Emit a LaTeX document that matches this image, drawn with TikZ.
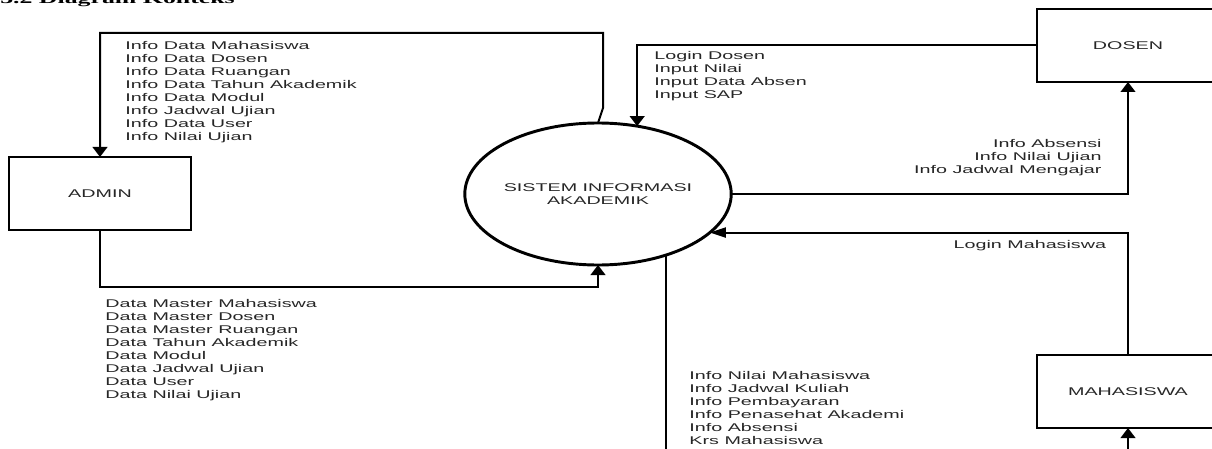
\documentclass[tikz,border=0pt]{standalone}
\usepackage{fontspec}
\setmainfont{Liberation Serif}
\setsansfont{Liberation Sans}
\usetikzlibrary{arrows.meta,shapes.geometric,calc}

\newcommand{\sx}[1]{\scalebox{1.76}[1]{#1}}

\tikzset{
  entity/.style={draw, line width=1.8pt, minimum width=136.5pt, minimum height=54.75pt, inner sep=0pt, outer sep=0pt, font=\sffamily\fontsize{8.4}{9.75}\selectfont, text=black!85},
  process/.style={draw, ellipse, line width=2.2pt, minimum width=195pt, minimum height=106.5pt, inner sep=0pt, outer sep=0pt, align=center, font=\sffamily\fontsize{8.4}{9.5}\selectfont, text=black!85},
  flow/.style={line width=1.5pt, -{Triangle[width=11pt,length=7.5pt]}},
  hflow/.style={line width=1.5pt, -{Triangle[width=7.5pt,length=12pt]}},
  flowtext/.style={inner sep=0pt, xscale=1.76, font=\sffamily\fontsize{8.4}{9.75}\selectfont, text=black!85}
}

\begin{document}
\begin{tikzpicture}[x=0.75pt,y=0.75pt,yscale=-1,xscale=1]
\useasboundingbox (0,0) rectangle (1212,449);
\clip (0,0) rectangle (1212,449);

% Text Node
\node [anchor=base west, inner sep=0pt, font=\bfseries\fontsize{11}{13}\selectfont] (title) at (0,4) {\sx{3.2 Diagram Konteks}};

%Shape: Ellipse
\node [process] (sia) at (598,194) {\sx{SISTEM INFORMASI}\\\sx{AKADEMIK}};
%Shape: Rectangle
\node [entity] (admin) at (100,193.5) {\sx{ADMIN}};
%Shape: Rectangle
\node [entity] (dosen) at (1128,45.5) {\sx{DOSEN}};
%Shape: Rectangle
\node [entity] (mhs) at (1128,391.5) {\sx{MAHASISWA}};

%Straight Lines
\draw [flow] (sia.north) -- ++(5,-15) -- ++(0,-75) -| (admin.north);
%Straight Lines
\draw [flow] (admin.south) -- ++(0,57) -| (sia.south);
%Straight Lines
\draw [flow] (dosen.west) -| (sia.60);
%Straight Lines
\draw [flow] (sia.east) -| (dosen.south);
%Straight Lines
\draw [hflow] (mhs.north) |- (sia.-19);
%Straight Lines
\draw [flow] (sia.-42) |- ($(mhs.south)+(0,45)$) -- (mhs.south);

% Text Node
\node [flowtext, anchor=north west, align=left] (tadmin) at (125,41) {Info Data Mahasiswa\\Info Data Dosen\\Info Data Ruangan\\Info Data Tahun Akademik\\Info Data Modul\\Info Jadwal Ujian\\Info Data User\\Info Nilai Ujian};
% Text Node
\node [flowtext, anchor=north west, align=left] (tmaster) at (105,299.5) {Data Master Mahasiswa\\Data Master Dosen\\Data Master Ruangan\\Data Tahun Akademik\\Data Modul\\Data Jadwal Ujian\\Data User\\Data Nilai Ujian};
% Text Node
\node [flowtext, anchor=north west, align=left] (tinput) at (654,51.5) {Login Dosen\\Input Nilai\\Input Data Absen\\Input SAP};
% Text Node
\node [flowtext, anchor=north east, align=right] (tdosen) at (1102,139) {Info Absensi\\Info Nilai Ujian\\Info Jadwal Mengajar};
% Text Node
\node [flowtext, anchor=north east, align=right] (tlogin) at (1106.5,240.5) {Login Mahasiswa};
% Text Node
\node [flowtext, anchor=north west, align=left] (tmhs) at (689,371.5) {Info Nilai Mahasiswa\\Info Jadwal Kuliah\\Info Pembayaran\\Info Penasehat Akademi\\Info Absensi\\Krs Mahasiswa};

\end{tikzpicture}
\end{document}
